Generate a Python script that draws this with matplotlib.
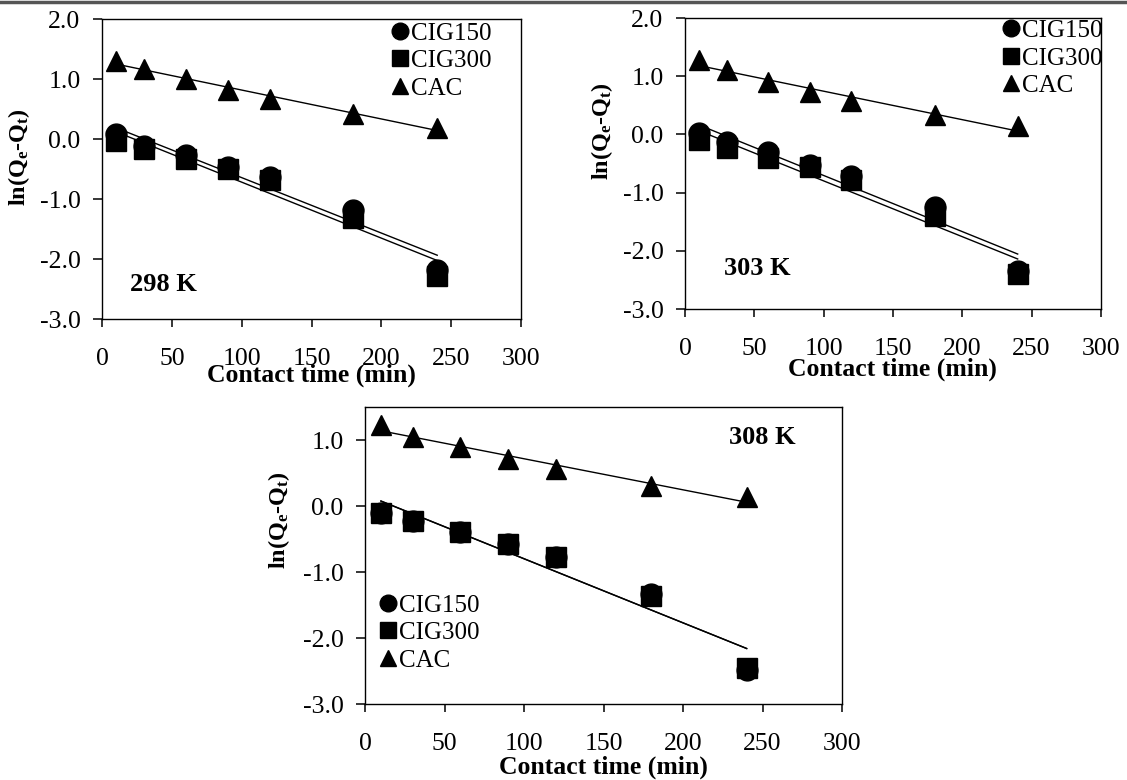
"""
Pseudo-first-order kinetic plots, ln(Qe-Qt) vs contact time at three temperatures.
"""

import numpy as np
import matplotlib
matplotlib.use("Agg")
import matplotlib.pyplot as plt
from matplotlib.lines import Line2D

plt.rcParams["font.family"] = ["Liberation Serif", "DejaVu Serif"]
plt.rcParams["mathtext.fontset"] = "custom"
plt.rcParams["mathtext.rm"] = "Liberation Serif:bold"
plt.rcParams["mathtext.it"] = "Liberation Serif:bold"
plt.rcParams["axes.unicode_minus"] = False

time_min = [10, 30, 60, 90, 120, 180, 240]
series_names = ["CIG150", "CIG300", "CAC"]
temp_labels = ["298 K", "303 K", "308 K"]

# 298 K
cig150_298 = [0.08, -0.11, -0.26, -0.47, -0.64, -1.19, -2.19]
cig300_298 = [-0.03, -0.17, -0.33, -0.50, -0.69, -1.31, -2.28]
cac_298 = [1.30, 1.17, 1.00, 0.82, 0.67, 0.42, 0.19]

# 303 K
cig150_303 = [0.03, -0.13, -0.30, -0.52, -0.72, -1.24, -2.34]
cig300_303 = [-0.09, -0.23, -0.40, -0.56, -0.79, -1.40, -2.40]
cac_303 = [1.28, 1.11, 0.90, 0.73, 0.57, 0.33, 0.14]

# 308 K
cig150_308 = [-0.10, -0.22, -0.39, -0.58, -0.78, -1.33, -2.48]
cig300_308 = [-0.10, -0.22, -0.39, -0.58, -0.78, -1.36, -2.46]
cac_308 = [1.23, 1.04, 0.89, 0.71, 0.56, 0.31, 0.13]

MARKERS = ["o", "s", "^"]
TICK_FS = 18.5
LABEL_FS = 18.5


def draw_panel(ax, series, temp, temp_xy, ylim, yticks, legend_kw, xlabel_y, ylabel_xy):
    x = np.array(time_min)
    # fitted lines first, markers on top
    for ys in series:
        k, b = np.polyfit(x, ys, 1)
        ax.plot([x[0], x[-1]], [k * x[0] + b, k * x[-1] + b], color="black", lw=1.0, zorder=2)
    for ys, m, name in zip(series, MARKERS, series_names):
        ax.plot(x, ys, linestyle="none", marker=m, ms=15, color="black", label=name, zorder=3)

    ax.set_xlim(0, 300)
    ax.set_ylim(*ylim)
    ax.set_xticks(range(0, 301, 50))
    ax.set_yticks(yticks)
    ax.set_yticklabels([f"{v:.1f}" for v in yticks])
    ax.tick_params(axis="y", direction="out", length=6.5, width=1.1, pad=9, labelsize=TICK_FS)
    ax.tick_params(axis="x", direction="out", length=6, width=1.1, pad=15, labelsize=TICK_FS)
    for sp in ax.spines.values():
        sp.set_linewidth(1.0)

    ax.set_xlabel("Contact time (min)", fontsize=LABEL_FS, fontweight="bold")
    ax.xaxis.set_label_coords(0.5, xlabel_y)
    ax.set_ylabel(r"ln(Q$_\mathrm{e}$-Q$_\mathrm{t}$)", fontsize=17.5, fontweight="bold")
    ax.yaxis.set_label_coords(*ylabel_xy)

    ax.text(temp_xy[0], temp_xy[1], temp, fontsize=19, fontweight="bold", ha="left", va="center")

    ax.legend(frameon=False, fontsize=18, handletextpad=0.0, handlelength=0.9,
              borderpad=0.0, labelspacing=0.2, markerscale=0.8, borderaxespad=0.0,
              **legend_kw)


def main():
    fig = plt.figure(figsize=(11.27, 7.8), dpi=100)

    ax1 = fig.add_axes([0.0905, 0.591, 0.3718, 0.3846])
    draw_panel(ax1, [cig150_298, cig300_298, cac_298], temp_labels[0], (20, -2.42),
               (-3, 2), [-3, -2, -1, 0, 1, 2],
               dict(loc="upper right", bbox_to_anchor=(0.93, 0.99)),
               -0.15, (-0.167, 0.54))

    ax2 = fig.add_axes([0.6078, 0.6038, 0.369, 0.373])
    draw_panel(ax2, [cig150_303, cig300_303, cac_303], temp_labels[1], (28, -2.31),
               (-3, 2), [-3, -2, -1, 0, 1, 2],
               dict(loc="upper right", bbox_to_anchor=(1.005, 0.995)),
               -0.168, (-0.168, 0.61))

    ax3 = fig.add_axes([0.3239, 0.0974, 0.4233, 0.3808])
    draw_panel(ax3, [cig150_308, cig300_308, cac_308], temp_labels[2], (229, 1.04),
               (-3, 1.5), [-3, -2, -1, 0, 1],
               dict(loc="upper left", bbox_to_anchor=(0.025, 0.37)),
               -0.175, (-0.153, 0.62))

    # thin rule along the top edge
    fig.add_artist(Line2D([0, 1], [0.997, 0.997], transform=fig.transFigure,
                          color="#555555", lw=2.5))

    fig.savefig("out.png", dpi=100)
    print("Saved figure to out.png")


if __name__ == "__main__":
    main()
